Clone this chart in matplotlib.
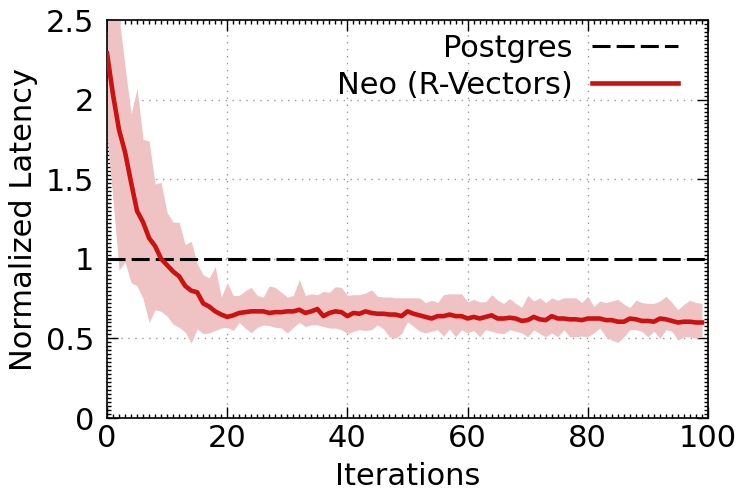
import numpy as np
import matplotlib

matplotlib.use("Agg")
import matplotlib.pyplot as plt
from matplotlib.ticker import MultipleLocator

# --- values (iterations 0..99) ---
iterations = np.arange(100)

neo_mean = [
    2.29, 2.03, 1.81, 1.67, 1.48, 1.30, 1.23, 1.13, 1.08, 1.00,
    0.96, 0.92, 0.89, 0.83, 0.80, 0.79, 0.72, 0.70, 0.67, 0.65,
    0.635, 0.645, 0.66, 0.665, 0.67, 0.67, 0.67, 0.66, 0.665, 0.665,
    0.67, 0.67, 0.68, 0.66, 0.67, 0.685, 0.64, 0.66, 0.67, 0.665,
    0.64, 0.66, 0.655, 0.67, 0.66, 0.655, 0.655, 0.65, 0.65, 0.64,
    0.67, 0.655, 0.645, 0.635, 0.625, 0.64, 0.64, 0.65, 0.64, 0.64,
    0.625, 0.635, 0.625, 0.635, 0.645, 0.625, 0.625, 0.63, 0.625, 0.61,
    0.615, 0.635, 0.62, 0.615, 0.64, 0.625, 0.625, 0.62, 0.62, 0.615,
    0.625, 0.625, 0.625, 0.615, 0.615, 0.605, 0.605, 0.625, 0.62, 0.61,
    0.61, 0.605, 0.625, 0.62, 0.61, 0.60, 0.605, 0.605, 0.60, 0.60,
]

neo_upper = [
    2.90, 2.80, 2.52, 2.21, 1.91, 2.07, 1.75, 1.74, 1.47, 1.48,
    1.29, 1.23, 1.23, 1.09, 1.11, 0.97, 0.90, 0.88, 0.95, 0.76,
    0.85, 0.77, 0.77, 0.80, 0.82, 0.77, 0.76, 0.83, 0.82, 0.79,
    0.76, 0.77, 0.87, 0.77, 0.78, 0.775, 0.795, 0.79, 0.825, 0.82,
    0.77, 0.775, 0.775, 0.785, 0.805, 0.765, 0.76, 0.76, 0.755, 0.755,
    0.755, 0.755, 0.755, 0.725, 0.74, 0.725, 0.775, 0.78, 0.78, 0.78,
    0.73, 0.745, 0.73, 0.73, 0.775, 0.74, 0.72, 0.75, 0.72, 0.695,
    0.77, 0.735, 0.755, 0.725, 0.755, 0.74, 0.755, 0.755, 0.755, 0.725,
    0.765, 0.70, 0.735, 0.725, 0.735, 0.745, 0.715, 0.695, 0.74, 0.725,
    0.72, 0.72, 0.735, 0.765, 0.725, 0.68, 0.715, 0.74, 0.725, 0.72,
]

neo_lower = [
    1.77, 1.37, 0.93, 0.98, 0.85, 0.83, 0.75, 0.60, 0.68, 0.67,
    0.64, 0.59, 0.57, 0.54, 0.47, 0.56, 0.53, 0.535, 0.55, 0.565,
    0.57, 0.55, 0.60, 0.565, 0.535, 0.57, 0.585, 0.58, 0.57, 0.565,
    0.535, 0.57, 0.60, 0.575, 0.585, 0.585, 0.575, 0.565, 0.565, 0.555,
    0.53, 0.545, 0.555, 0.55, 0.555, 0.585, 0.56, 0.51, 0.50, 0.53,
    0.605, 0.575, 0.545, 0.535, 0.545, 0.555, 0.515, 0.56, 0.51, 0.555,
    0.535, 0.55, 0.51, 0.555, 0.545, 0.535, 0.53, 0.555, 0.545, 0.535,
    0.51, 0.555, 0.53, 0.51, 0.535, 0.51, 0.555, 0.51, 0.51, 0.515,
    0.51, 0.535, 0.565, 0.51, 0.49, 0.475, 0.51, 0.555, 0.555, 0.545,
    0.51, 0.545, 0.50, 0.555, 0.545, 0.49, 0.51, 0.51, 0.50, 0.51,
]

postgres_level = 1.0

plt.rcParams["font.family"] = ["DejaVu Sans"]
plt.rcParams["font.size"] = 22

fig = plt.figure(figsize=(7.5, 4.94), dpi=100)
ax = fig.add_axes([0.1427, 0.1538, 0.8013, 0.8057])

ax.fill_between(iterations, neo_lower, neo_upper, color="#efc3c3", lw=0,
                zorder=1)
ax.axhline(postgres_level, color="black", lw=2.2, dashes=(5.9, 2.0),
           label="Postgres", zorder=3)
ax.plot(iterations, neo_mean, color="#cc1111", lw=3.3,
        label="Neo (R-Vectors)", zorder=4)

ax.set_xlim(0, 100)
ax.set_ylim(0, 2.5)
ax.xaxis.set_major_locator(MultipleLocator(20))
ax.xaxis.set_minor_locator(MultipleLocator(1))
ax.yaxis.set_minor_locator(MultipleLocator(0.025))
ax.set_yticks([0, 0.5, 1, 1.5, 2, 2.5])
ax.set_yticklabels(["0", "0.5", "1", "1.5", "2", "2.5"])

ax.tick_params(which="both", direction="in", top=True, right=True,
               width=1.0, colors="black", labelsize=22)
ax.tick_params(axis="x", pad=4)
ax.tick_params(axis="y", pad=9)
ax.tick_params(which="major", length=8)
ax.tick_params(which="minor", length=3)
for sp in ax.spines.values():
    sp.set_linewidth(1.2)

ax.grid(True, which="major", color="#999999", lw=1.0,
        linestyle=(0, (1, 4)), zorder=0)
ax.set_axisbelow(True)

ax.set_xlabel("Iterations", labelpad=7)
ax.set_ylabel("Normalized Latency", labelpad=6)

ax.legend(loc="upper right", bbox_to_anchor=(0.950, 0.965),
          frameon=False, markerfirst=False,
          handlelength=2.8, handletextpad=0.65, borderpad=0.0,
          borderaxespad=0.0, labelspacing=0.25, fontsize=22)

fig.savefig("out.png", dpi=100)
plt.close(fig)
